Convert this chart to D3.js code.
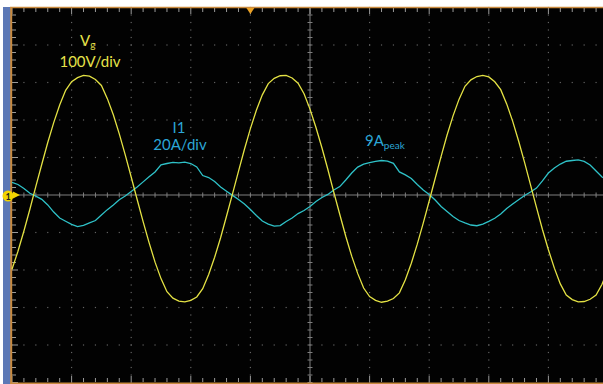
<!DOCTYPE html>
<html>
<head>
<meta charset="utf-8">
<script src="https://cdn.jsdelivr.net/npm/d3@7"></script>
<style>
  body { margin: 0; background: #fff; overflow: hidden; }
  text { font-family: Lato, "Noto Sans", sans-serif; }
</style>
</head>
<body>
<div id="root"></div>
<script>
// scope screen: 10 x 10 divisions, time in divisions from the centre
var timeDiv = d3.range(-50, 51).map(function(i){ return i / 10 })

// Vg, 100 V/div, every 0.1 div
var vg = [-198,-150,-96,-38,23,82,140,193,240,279,
          302,313,319,317,308,292,257,214,163,107,
          48,-12,-71,-127,-179,-223,-258,-275,-283,-285,
          -281,-272,-250,-212,-166,-114,-56,3,63,122,
          177,226,267,297,311,318,319,312,298,270,
          229,180,126,68,7,-52,-110,-163,-209,-248,
          -271,-281,-286,-283,-276,-261,-226,-182,-131,-75,
          -16,44,103,160,211,255,290,307,316,319,
          315,302,281,243,197,144,87,27,-33,-92,
          -146,-195,-237,-267,-279,-285,-284,-278,-267,-238,
          -197]

// I1, 20 A/div, every 0.1 div
var i1 = [6.7,5.6,3.5,0.9,-0.6,-2.3,-5.3,-9.1,-12.3,-14.0,
          -15.7,-16.9,-16.2,-14.9,-13.6,-10.7,-7.8,-5.3,-2.5,-0.5,
          1.9,4.3,7.0,9.7,12.3,16.1,16.8,17.4,17.1,17.5,
          16.8,15.0,10.4,9.3,7.2,4.3,2.0,-0.2,-2.4,-4.8,
          -7.7,-10.9,-13.9,-15.5,-16.6,-16.3,-14.1,-12.3,-9.9,-8.3,
          -6.1,-3.5,-1.3,0.3,2.7,4.5,8.0,11.7,14.9,16.5,
          17.3,17.9,18.4,18.1,16.9,12.3,10.7,8.8,5.6,2.7,
          0.3,-2.7,-6.1,-8.8,-11.5,-13.6,-14.9,-16.0,-16.4,-15.5,
          -14.1,-12.4,-10.1,-7.2,-4.8,-2.5,-0.3,1.6,3.7,7.5,
          11.7,14.4,16.5,18.0,18.4,18.7,17.9,16.0,12.8,9.6,
          8.0]

var gridDivs = [-4, -3, -2, -1, 1, 2, 3, 4]
var minorDivs = d3.range(-25, 26).map(function(i){ return i / 5 })

var width = 603, height = 384

var svg = d3.select("#root")
            .append("svg")
            .attr("width", width)
            .attr("height", height)

var x = d3.scaleLinear().domain([-5, 5]).range([12, 608])
var yDiv = d3.scaleLinear().domain([-5, 5]).range([382.5, 7.5])
var yV = d3.scaleLinear().domain([-500, 500]).range([382.5, 7.5])
var yI = d3.scaleLinear().domain([-100, 100]).range([382.5, 7.5])

// frame
svg.append("rect").attr("width", width).attr("height", height).attr("fill", "#fff")
svg.append("rect").attr("x", 3).attr("y", 7).attr("width", 8).attr("height", height - 7).attr("fill", "#5c78b6")
svg.append("rect").attr("x", 12).attr("y", 8).attr("width", width - 12).attr("height", height - 8).attr("fill", "#020202")

// dotted graticule
var dots = svg.append("g").attr("fill", "#626262")
gridDivs.forEach(function(g){
  dots.selectAll(null).data(minorDivs).enter().append("rect")
      .attr("x", function(d){ return x(d) - 0.6 })
      .attr("y", yDiv(g) - 0.6)
      .attr("width", 1.2).attr("height", 1.2)
  dots.selectAll(null).data(minorDivs).enter().append("rect")
      .attr("x", x(g) - 0.6)
      .attr("y", function(d){ return yDiv(d) - 0.6 })
      .attr("width", 1.2).attr("height", 1.2)
})

// centre crosshair with minor ticks
var cross = svg.append("g").attr("stroke", "#7e7e7e").attr("stroke-width", 1)
cross.append("line").attr("x1", 12).attr("x2", width).attr("y1", yDiv(0)).attr("y2", yDiv(0))
cross.append("line").attr("x1", x(0)).attr("x2", x(0)).attr("y1", 8).attr("y2", height)
cross.selectAll(null).data(minorDivs).enter().append("line")
     .attr("x1", function(d){ return x(d) }).attr("x2", function(d){ return x(d) })
     .attr("y1", yDiv(0) - 2.5).attr("y2", yDiv(0) + 2.5)
cross.selectAll(null).data(minorDivs).enter().append("line")
     .attr("y1", function(d){ return yDiv(d) }).attr("y2", function(d){ return yDiv(d) })
     .attr("x1", x(0) - 2.5).attr("x2", x(0) + 2.5)

// ticks along the edges
var edge = svg.append("g").attr("stroke", "#9a9a9a").attr("stroke-width", 1)
edge.selectAll(null).data(minorDivs).enter().append("line")
    .attr("x1", function(d){ return x(d) }).attr("x2", function(d){ return x(d) })
    .attr("y1", 8).attr("y2", function(d){ return Number.isInteger(d) ? 14 : 12 })
edge.selectAll(null).data(minorDivs).enter().append("line")
    .attr("x1", function(d){ return x(d) }).attr("x2", function(d){ return x(d) })
    .attr("y1", 382).attr("y2", function(d){ return Number.isInteger(d) ? 376 : 378 })
edge.selectAll(null).data(minorDivs).enter().append("line")
    .attr("y1", function(d){ return yDiv(d) }).attr("y2", function(d){ return yDiv(d) })
    .attr("x1", 12).attr("x2", function(d){ return Number.isInteger(d) ? 18 : 16 })

// orange bezel lines
svg.append("line").attr("x1", 10).attr("x2", width).attr("y1", 7.5).attr("y2", 7.5)
   .attr("stroke", "#c98a3e").attr("stroke-width", 1.5)
svg.append("line").attr("x1", 11.2).attr("x2", 11.2).attr("y1", 7).attr("y2", height)
   .attr("stroke", "#c98a3e").attr("stroke-width", 2)
svg.append("line").attr("x1", 10).attr("x2", width).attr("y1", 383.2).attr("y2", 383.2)
   .attr("stroke", "#c98a3e").attr("stroke-width", 1.5)

// traces
var vLine = d3.line().x(function(d, i){ return x(timeDiv[i]) }).y(function(d){ return yV(d) })
var iLine = d3.line().x(function(d, i){ return x(timeDiv[i]) }).y(function(d){ return yI(d) })

svg.append("path").datum(i1).attr("d", iLine)
   .attr("fill", "none").attr("stroke", "#2fc2c8").attr("stroke-width", 1.3)
svg.append("path").datum(vg).attr("d", vLine)
   .attr("fill", "none").attr("stroke", "#e4e244").attr("stroke-width", 1.3)

// trigger position marker
svg.append("path")
   .attr("d", "M" + (x(-1) - 4) + ",8L" + (x(-1) + 4) + ",8L" + x(-1) + ",14Z")
   .attr("fill", "#eaa024")

// channel 1 ground marker
svg.append("path")
   .attr("d", "M13," + (yDiv(0) - 3.5) + "L20," + yDiv(0) + "L13," + (yDiv(0) + 3.5) + "Z")
   .attr("fill", "#f2d400")
svg.append("circle").attr("cx", 8).attr("cy", yDiv(0) + 1).attr("r", 5.5).attr("fill", "#f2d400")
svg.append("text").attr("x", 8).attr("y", yDiv(0) + 4.5).attr("text-anchor", "middle")
   .attr("font-size", 9).attr("font-weight", "bold").attr("fill", "#222").text("1")

// labels
var vLab = svg.append("g").attr("fill", "#e6e24a")
var vt = vLab.append("text").attr("x", 80).attr("y", 46).attr("font-size", 15)
vt.append("tspan").text("V")
vt.append("tspan").attr("font-size", 10).attr("dy", 2).text("g")
vLab.append("text").attr("x", 90).attr("y", 67).attr("text-anchor", "middle").attr("font-size", 15).text("100V/div")

var iLab = svg.append("g").attr("fill", "#2ba6d6")
iLab.append("text").attr("x", 179).attr("y", 133).attr("text-anchor", "middle").attr("font-size", 15).text("I1")
iLab.append("text").attr("x", 180).attr("y", 150).attr("text-anchor", "middle").attr("font-size", 15).text("20A/div")
var pk = iLab.append("text").attr("x", 365).attr("y", 146).attr("font-size", 15)
pk.append("tspan").text("9A")
pk.append("tspan").attr("font-size", 10).attr("dy", 3).text("peak")
</script>
</body>
</html>
